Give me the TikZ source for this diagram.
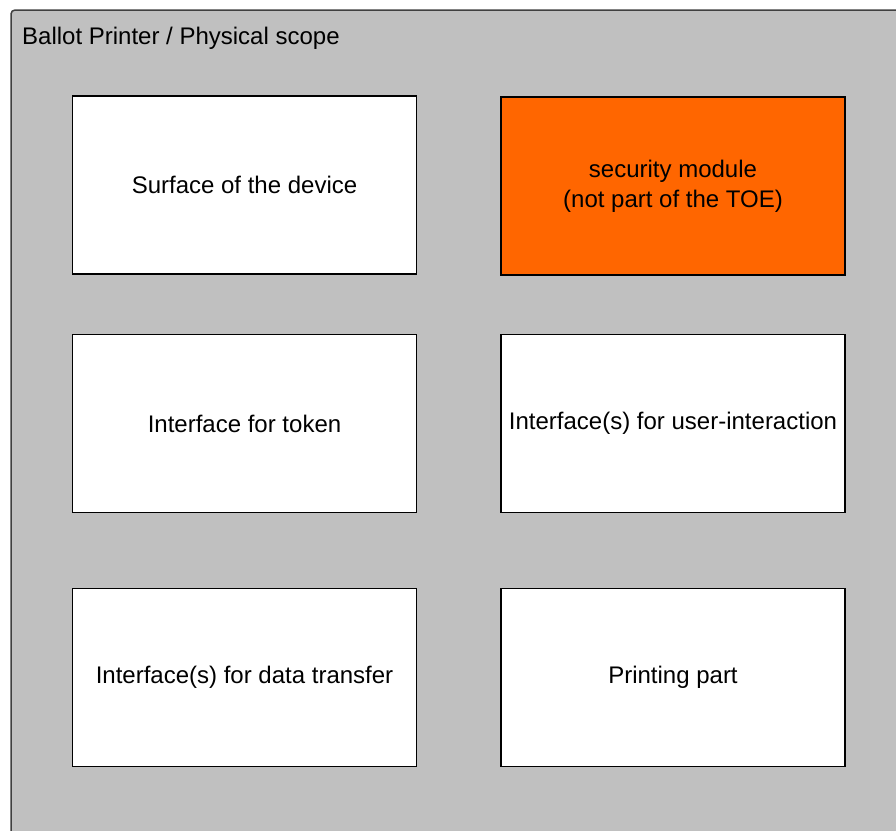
\documentclass[tikz,border=0pt]{standalone}
\usepackage{fontspec}
\setmainfont{Liberation Sans}
\definecolor{scopegray}{HTML}{C0C0C0}
\definecolor{secorange}{HTML}{FF6600}
\definecolor{framegray}{HTML}{404040}
\begin{document}
\begin{tikzpicture}[x=1pt,y=-1pt,
  part/.style={draw=black, line width=1.5pt, fill=white, minimum width=344pt, minimum height=178pt, inner sep=0pt, align=center, font=\fontsize{24}{30}\selectfont},
  lbl/.style={font=\fontsize{24}{30}\selectfont, inner sep=0pt, anchor=west}]
\useasboundingbox (0,0) rectangle (896,830);
\draw[draw=framegray, line width=1.5pt, fill=scopegray, rounded corners=4pt] (11,10) rectangle (910,850);
\node[lbl] (title) at (22,38) {Ballot Printer / Physical scope};
\node[part] (surface) at (244.5,185) {Surface of the device};
\node[part, fill=secorange] (security) at (673,186) {security module\\(not part of the TOE)};
\node[part] (token) at (244.5,423.5) {Interface for token};
\node[part] (user) at (673,423.5) {Interface(s) for user-interaction};
\node[part] (data) at (244.5,677.5) {Interface(s) for data transfer};
\node[part] (print) at (673,677.5) {Printing part};
\end{tikzpicture}
\end{document}
